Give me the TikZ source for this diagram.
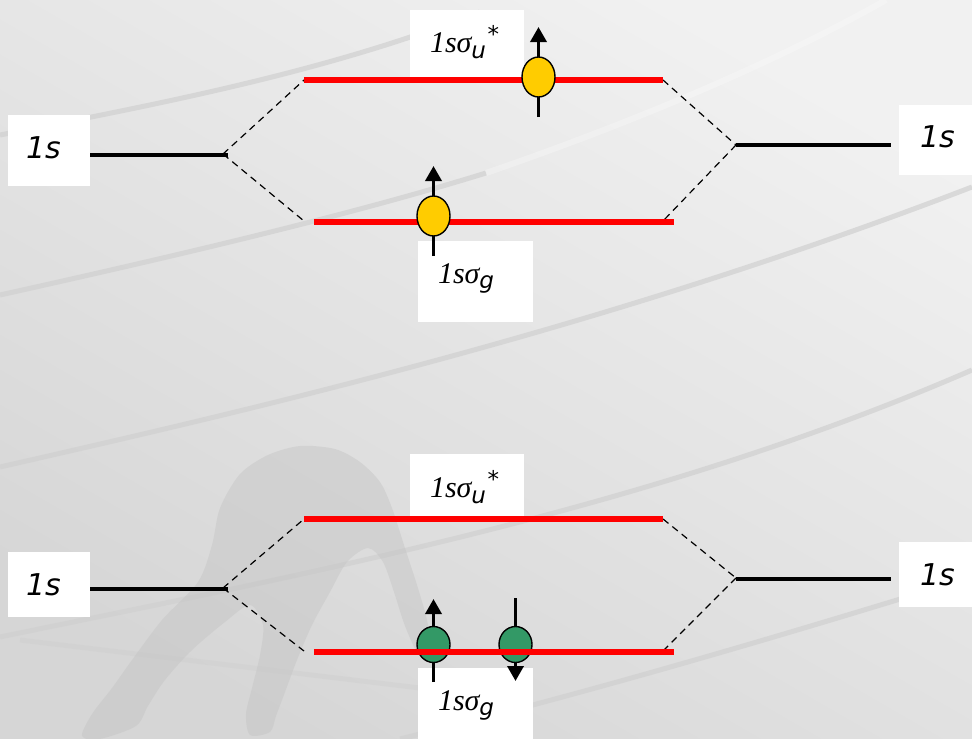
\documentclass[tikz,border=0pt]{standalone}
\usepackage{fontspec}
\setmainfont{Liberation Serif}
\newfontfamily\dvsans{DejaVu Sans}
\usetikzlibrary{arrows.meta,shapes.geometric}

\definecolor{bgtop}{HTML}{F1F1F1}
\definecolor{bgbot}{HTML}{D6D6D6}
\definecolor{band}{HTML}{D0D0D0}
\definecolor{levelred}{HTML}{FF0000}
\definecolor{eyellow}{HTML}{FFCC00}
\definecolor{egreen}{HTML}{339966}
\definecolor{runner}{HTML}{C4C4C4}

% orbital labels
\newcommand{\lblstar}{{\fontsize{30}{31}\selectfont\itshape 1sσ}\raisebox{-6pt}{\dvsans\itshape\fontsize{23}{23}\selectfont u}\hspace{1.5pt}\raisebox{10pt}{\dvsans\fontsize{23}{23}\selectfont *}}
\newcommand{\lblsig}{{\fontsize{30}{31}\selectfont\itshape 1sσ}\raisebox{-5pt}{\dvsans\itshape\fontsize{23}{23}\selectfont g}}
\newcommand{\lblao}{{\dvsans\itshape\fontsize{30}{31}\selectfont 1s}}

\tikzset{
  labelbox/.style={fill=white, draw=none, inner sep=0pt, outer sep=0pt},
  labeltext/.style={anchor=base west, inner sep=0pt, outer sep=0pt},
  molevel/.style={line width=5.5pt, draw=levelred},
  aolevel/.style={line width=3.5pt, draw=black},
  corr/.style={line width=1.2pt, dash pattern=on 7pt off 5pt},
  spin/.style={line width=3.5pt, -{Triangle[width=16pt,length=15pt]}},
  electron/.style={ellipse, draw=black, line width=1.4pt, inner sep=0pt, minimum width=33pt},
  bandline/.style={line width=5pt, draw=band, opacity=0.7},
}

\begin{document}
\begin{tikzpicture}[x=1pt,y=-1pt]
\useasboundingbox (0,0) rectangle (972,739);

% ---------- backdrop ----------
\shade[top color=bgtop, bottom color=bgbot, shading angle=-30] (0,0) rectangle (972,739);
\draw[bandline] (0,135) .. controls (180,100) and (330,70) .. (480,12);
\draw[bandline] (0,295) .. controls (180,255) and (350,215) .. (486,173);
\draw[line width=6pt, white, opacity=0.25] (486,173) .. controls (640,120) and (780,60) .. (886,0);
\draw[bandline] (0,467) .. controls (250,410) and (600,330) .. (972,187);
\draw[bandline] (0,637) .. controls (300,575) and (650,510) .. (972,370);
\draw[bandline] (400,739) .. controls (600,690) and (800,630) .. (972,577);
\draw[bandline, opacity=0.5] (20,640) -- (420,688);
% crouching runner
\fill[runner, opacity=0.45] plot[smooth cycle, tension=0.5] coordinates {
  (300,446) (335,449) (360,462) (380,482) (392,508) (404,545) (417,585)
  (427,620) (431,650) (419,655) (405,626) (394,592) (383,562) (368,548)
  (347,562) (330,592) (312,625) (297,660) (285,692) (276,716) (270,732)
  (250,735) (246,714) (252,688) (260,655) (263,625) (250,605) (225,622)
  (192,650) (165,680) (148,706) (136,726) (100,739) (82,736) (92,714)
  (112,688) (132,660) (162,620) (198,582) (212,545) (220,508) (240,474) (268,455)};

% ---------- white label boxes ----------
\node[labelbox, minimum width=82pt, minimum height=71pt] (boxLt) at (49,150.5) {};
\node[labelbox, minimum width=82pt, minimum height=65pt] (boxLb) at (49,584.5) {};
\node[labelbox, minimum width=73pt, minimum height=70pt] (boxRt) at (935.5,140) {};
\node[labelbox, minimum width=73pt, minimum height=65pt] (boxRb) at (935.5,574.5) {};
\node[labelbox, minimum width=114pt, minimum height=70pt] (boxSt) at (467,45) {};
\node[labelbox, minimum width=115pt, minimum height=81pt] (boxGt) at (475.5,281.5) {};
\node[labelbox, minimum width=114pt, minimum height=65pt] (boxSb) at (467,486.5) {};
\node[labelbox, minimum width=115pt, minimum height=71pt] (boxGb) at (475.5,703.5) {};

% ---------- label texts ----------
\node[labeltext] (txLt) at (26,158) {\lblao};
\node[labeltext] (txLb) at (26,595) {\lblao};
\node[labeltext] (txRt) at (920,147) {\lblao};
\node[labeltext] (txRb) at (920,585) {\lblao};
\node[labeltext] (txSt) at (430,52) {\lblstar};
\node[labeltext] (txGt) at (438,283) {\lblsig};
\node[labeltext] (txSb) at (430,497) {\lblstar};
\node[labeltext] (txGb) at (438,710) {\lblsig};

% ---------- upper diagram: one electron ----------
\coordinate (tL1) at (90,155);   \coordinate (tL2) at (228,155);
\coordinate (tLv) at (223,154);
\coordinate (tSa) at (304,80);   \coordinate (tSb) at (663,80);
\coordinate (tGa) at (314,222);  \coordinate (tGb) at (674,222);
\coordinate (tGl) at (304,221);  \coordinate (tGr) at (663,221);
\coordinate (tRv) at (736,145);
\coordinate (tR1) at (736,145);  \coordinate (tR2) at (891,145);

\draw[aolevel] (tL1) -- (tL2);
\draw[aolevel] (tR1) -- (tR2);
\draw[corr] (tLv) -- (tSa);
\draw[corr] (tLv) -- (tGl);
\draw[corr] (tSb) -- (tRv);
\draw[corr] (tRv) -- (tGr);
\draw[molevel] (tSa) -- (tSb);
\draw[molevel] (tGa) -- (tGb);

\coordinate (e1s) at (538.5,117); \coordinate (e1t) at (538.5,27);
\draw[spin] (e1s) -- (e1t);
\node[electron, fill=eyellow, minimum height=40pt] (e1) at (538.5,77) {};
\coordinate (e2s) at (433.5,256); \coordinate (e2t) at (433.5,166);
\draw[spin] (e2s) -- (e2t);
\node[electron, fill=eyellow, minimum height=40pt] (e2) at (433.5,216) {};

% ---------- lower diagram: electron pair ----------
\coordinate (bL1) at (90,589);   \coordinate (bL2) at (228,589);
\coordinate (bLv) at (223,588);
\coordinate (bSa) at (304,519);  \coordinate (bSb) at (663,519);
\coordinate (bGa) at (314,652);  \coordinate (bGb) at (674,652);
\coordinate (bGl) at (304,651);  \coordinate (bGr) at (663,651);
\coordinate (bRv) at (736,578);
\coordinate (bR1) at (736,579);  \coordinate (bR2) at (891,579);

\draw[aolevel] (bL1) -- (bL2);
\draw[aolevel] (bR1) -- (bR2);
\draw[corr] (bLv) -- (bSa);
\draw[corr] (bLv) -- (bGl);
\draw[corr] (bSb) -- (bRv);
\draw[corr] (bRv) -- (bGr);
\draw[molevel] (bSa) -- (bSb);

\coordinate (e3s) at (433.5,682); \coordinate (e3t) at (433.5,599);
\draw[spin] (e3s) -- (e3t);
\node[electron, fill=egreen, minimum height=36pt] (e3) at (433.5,644.5) {};
\coordinate (e4s) at (515.5,598); \coordinate (e4t) at (515.5,681);
\draw[spin] (e4s) -- (e4t);
\node[electron, fill=egreen, minimum height=36pt] (e4) at (515.5,644.5) {};

\draw[molevel] (bGa) -- (bGb);
\end{tikzpicture}
\end{document}
